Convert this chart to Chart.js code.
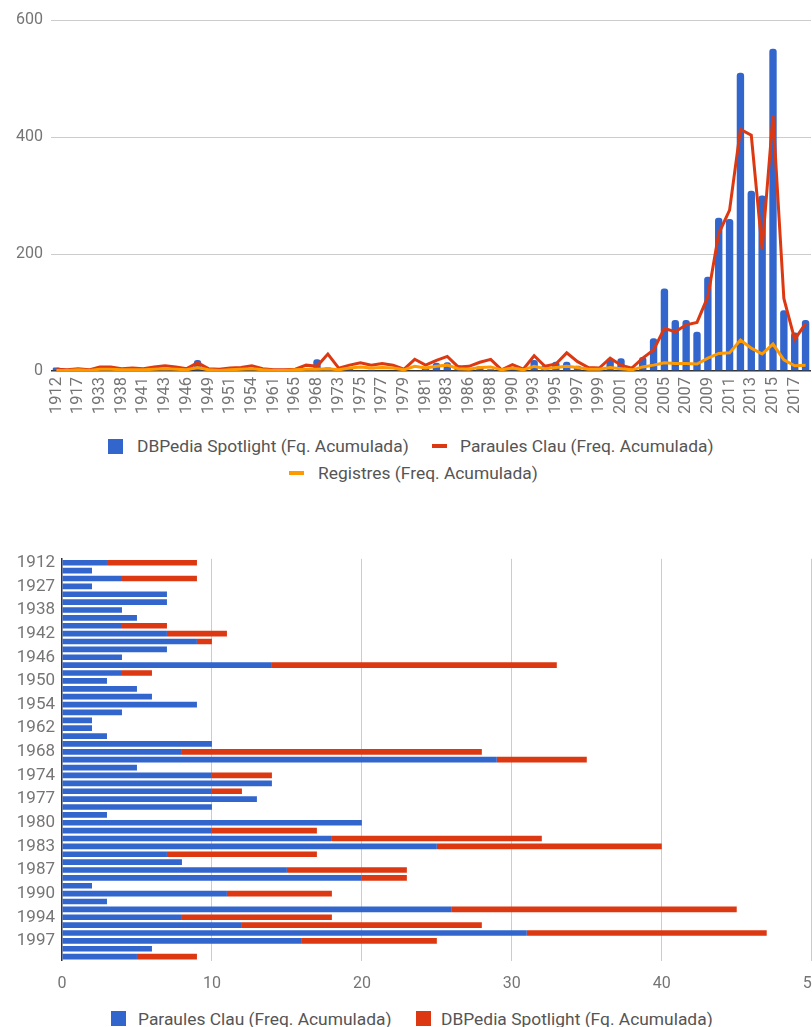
<!DOCTYPE html>
<html>
<head>
<meta charset="utf-8">
<script src="https://cdn.jsdelivr.net/npm/chart.js@4.4.0/dist/chart.umd.min.js"></script>
<style>
  html, body { margin: 0; padding: 0; background: #fff; overflow: hidden; width: 812px; height: 1027px; }
  body { position: relative; font-family: Roboto, sans-serif; }
  .box { position: absolute; left: 0; }
  #topBox { top: 0; width: 840px; height: 430px; }
  #bottomBox { top: 540px; width: 840px; height: 460px; }
  .lg { position: absolute; font-size: 17.4px; color: #555; white-space: nowrap; line-height: 20px; }
  .sw { position: absolute; }
</style>
</head>
<body>
<div class="box" id="topBox"><canvas id="topChart"></canvas></div>
<div class="box" id="bottomBox"><canvas id="bottomChart"></canvas></div>

<!-- legends -->
<div class="sw" style="left:108px;top:439px;width:15px;height:15px;background:#3366CC"></div>
<div class="lg" style="left:137px;top:436px">DBPedia Spotlight (Fq. Acumulada)</div>
<div class="sw" style="left:432px;top:444px;width:15px;height:4px;background:#DC3912"></div>
<div class="lg" style="left:460px;top:436px">Paraules Clau (Freq. Acumulada)</div>
<div class="sw" style="left:289px;top:471px;width:15px;height:4px;background:#FF9900"></div>
<div class="lg" style="left:318px;top:463px">Registres (Freq. Acumulada)</div>

<div class="sw" style="left:111px;top:1011px;width:15px;height:15px;background:#3366CC"></div>
<div class="lg" style="left:138px;top:1009px">Paraules Clau (Freq. Acumulada)</div>
<div class="sw" style="left:416px;top:1011px;width:15px;height:15px;background:#DC3912"></div>
<div class="lg" style="left:441px;top:1009px">DBPedia Spotlight (Fq. Acumulada)</div>

<script>
const years = [1912, 1914, 1917, 1927, 1933, 1936, 1938, 1939, 1941, 1942,
  1943, 1944, 1946, 1947, 1949, 1950, 1951, 1952, 1954, 1955,
  1961, 1962, 1965, 1966, 1968, 1970, 1973, 1974, 1975, 1976,
  1977, 1978, 1979, 1980, 1981, 1982, 1983, 1985, 1986, 1987,
  1988, 1989, 1990, 1991, 1993, 1994, 1995, 1996, 1997, 1998,
  1999, 2000, 2001, 2002, 2003, 2004, 2005, 2006, 2007, 2008,
  2009, 2010, 2011, 2012, 2013, 2014, 2015, 2016, 2017, 2018];

const dbpedia = [6, 0, 5, 0, 0, 0, 0, 0, 3, 4,
  1, 0, 0, 19, 2, 0, 0, 0, 0, 0,
  0, 0, 0, 0, 20, 6, 0, 4, 0, 2,
  0, 0, 0, 0, 7, 14, 15, 10, 0, 8,
  3, 0, 7, 0, 19, 10, 16, 16, 9, 0,
  4, 22, 22, 0, 24, 56, 141, 87, 87, 67,
  161, 262, 260, 510, 308, 300, 551, 104, 66, 87];

const paraules = [3, 2, 4, 2, 7, 7, 4, 5, 4, 7,
  9, 7, 4, 14, 4, 3, 5, 6, 9, 4,
  2, 2, 3, 10, 8, 29, 5, 10, 14, 10,
  13, 10, 3, 20, 10, 18, 25, 7, 8, 15,
  20, 2, 11, 3, 26, 8, 12, 31, 16, 6,
  5, 22, 10, 5, 22, 36, 73, 67, 79, 83,
  127, 235, 275, 413, 403, 208, 437, 124, 54, 81];

const registres = [1, 1, 2, 1, 3, 3, 2, 2, 2, 3,
  4, 3, 2, 6, 2, 1, 2, 3, 4, 2,
  1, 1, 2, 3, 3, 4, 2, 5, 7, 5,
  6, 5, 2, 8, 5, 8, 10, 4, 3, 6,
  7, 2, 5, 2, 8, 4, 6, 8, 6, 3,
  3, 6, 4, 2, 7, 10, 14, 13, 13, 12,
  22, 30, 31, 53, 39, 29, 46, 19, 9, 10];

// the lower chart only goes up to 1999
const nBottom = 51;

const axisColor = "#757575";

new Chart(document.getElementById("topChart"), {
  data: {
    labels: years,
    datasets: [
      {
        type: "line",
        label: "Registres (Freq. Acumulada)",
        data: registres,
        borderColor: "#FF9900",
        borderWidth: 3,
        pointRadius: 0,
        order: 0
      },
      {
        type: "line",
        label: "Paraules Clau (Freq. Acumulada)",
        data: paraules,
        borderColor: "#DC3912",
        borderWidth: 3,
        pointRadius: 0,
        order: 1
      },
      {
        type: "bar",
        label: "DBPedia Spotlight (Fq. Acumulada)",
        data: dbpedia,
        backgroundColor: "#3366CC",
        barPercentage: 0.68,
        categoryPercentage: 1,
        borderRadius: 3,
        order: 2
      }
    ]
  },
  options: {
    responsive: true,
    maintainAspectRatio: false,
    animation: false,
    layout: { padding: { top: 20, right: 29, left: 0, bottom: 0 } },
    plugins: { legend: { display: false }, tooltip: { enabled: false } },
    scales: {
      x: {
        offset: true,
        grid: { display: false, drawTicks: false },
        border: { display: false },
        ticks: {
          autoSkip: false,
          maxRotation: 90,
          minRotation: 90,
          padding: 6,
          font: { family: "Roboto", size: 16.5 },
          color: axisColor,
          callback: (v, i) => (i % 2 === 0 ? years[i] : "")
        },
        afterFit: s => { s.height = 59; }
      },
      y: {
        min: 0,
        max: 600,
        border: { display: false },
        grid: {
          drawTicks: false,
          color: ctx => (ctx.tick.value === 0 ? "#333" : "#ccc"),
          lineWidth: ctx => (ctx.tick.value === 0 ? 1.5 : 1)
        },
        ticks: { stepSize: 200, padding: 8, font: { family: "Roboto", size: 16 }, color: axisColor },
        afterFit: s => { s.width = 51; }
      }
    }
  }
});

new Chart(document.getElementById("bottomChart"), {
  type: "bar",
  data: {
    labels: years.slice(0, nBottom),
    datasets: [
      {
        label: "Paraules Clau (Freq. Acumulada)",
        data: paraules.slice(0, nBottom),
        backgroundColor: "#3366CC",
        barPercentage: 0.72,
        categoryPercentage: 1
      },
      {
        label: "DBPedia Spotlight (Fq. Acumulada)",
        data: dbpedia.slice(0, nBottom),
        backgroundColor: "#DC3912",
        barPercentage: 0.72,
        categoryPercentage: 1
      }
    ]
  },
  options: {
    indexAxis: "y",
    responsive: true,
    maintainAspectRatio: false,
    animation: false,
    layout: { padding: { top: 18.8, right: 28.3, left: 0, bottom: 0 } },
    plugins: { legend: { display: false }, tooltip: { enabled: false } },
    scales: {
      x: {
        stacked: true,
        min: 0,
        max: 50,
        border: { display: false },
        grid: {
          drawTicks: false,
          color: ctx => (ctx.tick.value === 0 ? "rgba(0,0,0,0)" : "#ccc")
        },
        ticks: { stepSize: 10, padding: 14, font: { family: "Roboto", size: 16 }, color: axisColor },
        afterFit: s => { s.height = 39.4; }
      },
      y: {
        stacked: true,
        grid: { display: false, drawTicks: false },
        border: { display: true, color: "#333", width: 1.5 },
        ticks: {
          autoSkip: false,
          padding: 7,
          font: { family: "Roboto", size: 17 },
          color: axisColor,
          callback: (v, i) => (i % 3 === 0 ? years[i] : "")
        },
        afterFit: s => { s.width = 62; }
      }
    }
  }
});
</script>
</body>
</html>
